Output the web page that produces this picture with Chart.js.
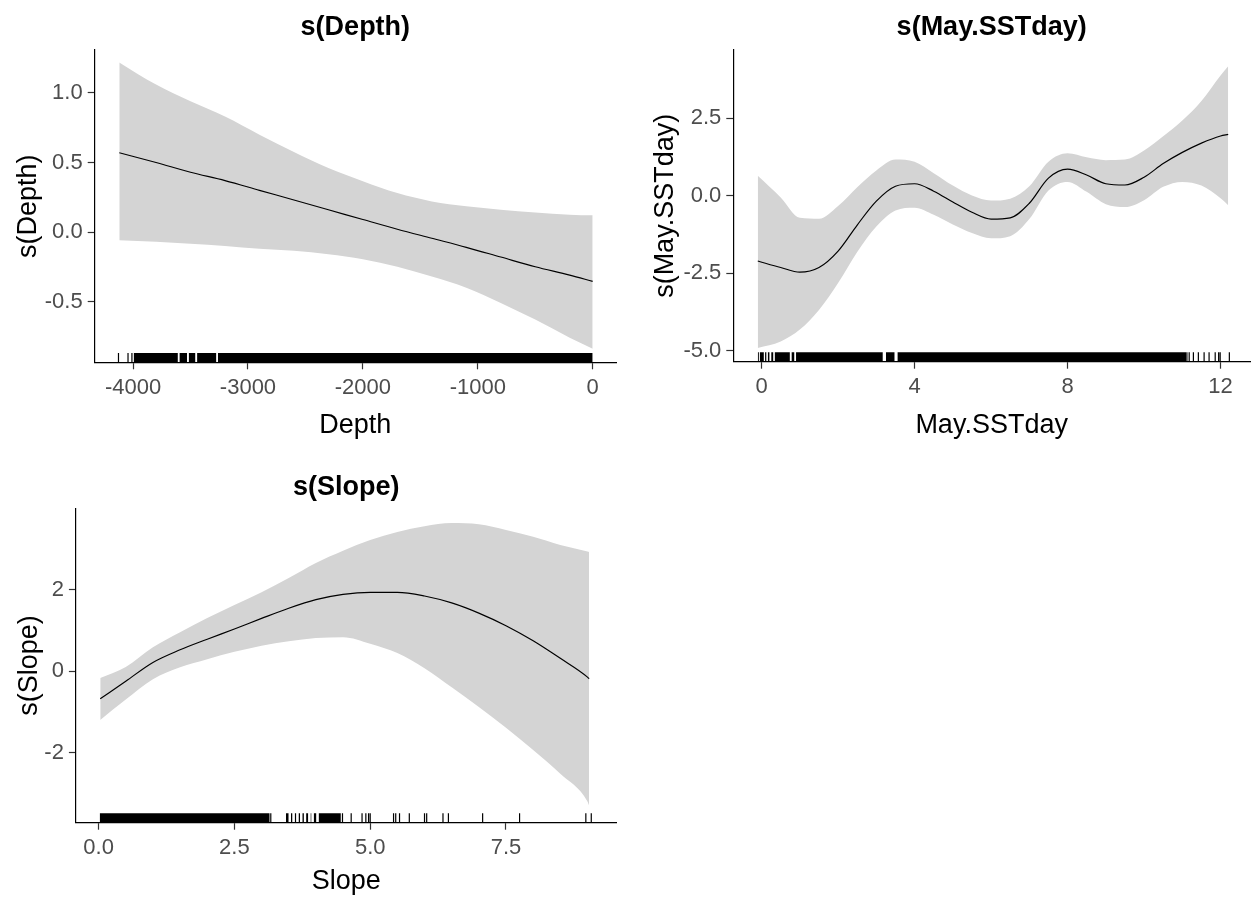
<!DOCTYPE html>
<html>
<head>
<meta charset="utf-8">
<script src="https://cdn.jsdelivr.net/npm/chart.js@4.4.1/dist/chart.umd.min.js"></script>
<style>
  body { margin: 0; background: #fff; }
  #wrap { position: relative; width: 1252px; height: 900px; }
  canvas { position: absolute; }
</style>
</head>
<body>
<div id="wrap">
  <canvas id="depthChart" width="630" height="450" style="left:0;top:0"></canvas>
  <canvas id="sstChart" width="622" height="450" style="left:630px;top:0"></canvas>
  <canvas id="slopeChart" width="630" height="450" style="left:0;top:450px"></canvas>
</div>
<script>
// s(Depth)
const depthX = [-4120, -3800, -3500, -3200, -2900, -2600, -2300, -2000, -1700, -1400, -1100, -800, -500, -200, 0];
const depthFit = [0.57, 0.50, 0.43, 0.37, 0.30, 0.23, 0.16, 0.09, 0.02, -0.045, -0.11, -0.18, -0.25, -0.31, -0.355];
const depthUpper = [1.22, 1.06, 0.94, 0.83, 0.70, 0.575, 0.46, 0.365, 0.28, 0.22, 0.185, 0.16, 0.14, 0.125, 0.12];
const depthLower = [-0.06, -0.07, -0.085, -0.10, -0.12, -0.135, -0.16, -0.195, -0.25, -0.32, -0.40, -0.51, -0.63, -0.76, -0.84];
const depthRugTicks = [-4127, -4044, -4010];
const depthRugBlocks = [[-3995, -3610], [-3597, -3530], [-3516, -3457], [-3443, -3275], [-3262, 0]];
const depthXTicks = [-4000, -3000, -2000, -1000, 0];
const depthXLabels = ["-4000", "-3000", "-2000", "-1000", "0"];
const depthYTicks = [1.0, 0.5, 0.0, -0.5];
const depthYLabels = ["1.0", "0.5", "0.0", "-0.5"];

// s(May.SSTday)
const sstX = [-0.1, 0.5, 1.0, 1.5, 2.0, 2.5, 3.0, 3.5, 4.0, 4.5, 5.0, 5.5, 6.0, 6.5, 7.0, 7.5, 8.0, 8.5, 9.0, 9.5, 10.0, 10.5, 11.0, 11.5, 12.0, 12.2];
const sstFit = [-2.10, -2.31, -2.46, -2.31, -1.78, -0.94, -0.17, 0.31, 0.39, 0.15, -0.20, -0.53, -0.75, -0.71, -0.24, 0.57, 0.86, 0.67, 0.39, 0.35, 0.60, 1.04, 1.40, 1.70, 1.93, 1.98];
const sstUpper = [0.65, -0.05, -0.71, -0.74, -0.33, 0.28, 0.82, 1.17, 1.10, 0.73, 0.33, 0.01, -0.15, -0.09, 0.31, 1.10, 1.37, 1.24, 1.15, 1.17, 1.46, 1.92, 2.43, 3.06, 3.88, 4.18];
const sstLower = [-4.90, -4.69, -4.31, -3.68, -2.81, -1.81, -0.99, -0.47, -0.38, -0.61, -0.92, -1.20, -1.37, -1.30, -0.75, 0.17, 0.45, 0.13, -0.27, -0.36, -0.14, 0.29, 0.45, 0.33, -0.08, -0.30];
const sstRugTicks = [11.12, 11.18, 11.29, 11.42, 11.57, 11.70, 11.86, 11.95, 11.99, 12.23];
const sstRugBlocks = [[-0.10, -0.07], [-0.05, 0.06], [0.09, 0.13], [0.16, 0.21], [0.25, 0.31], [0.34, 0.74], [0.78, 0.86], [0.90, 3.17], [3.25, 3.48], [3.55, 11.10]];
const sstXTicks = [0, 4, 8, 12];
const sstXLabels = ["0", "4", "8", "12"];
const sstYTicks = [2.5, 0.0, -2.5, -5.0];
const sstYLabels = ["2.5", "0.0", "-2.5", "-5.0"];

// s(Slope)
const slopeX = [0.03, 0.5, 1.0, 1.5, 2.0, 2.5, 3.0, 3.5, 4.0, 4.5, 5.0, 5.5, 6.0, 6.5, 7.0, 7.5, 8.0, 8.5, 9.0, 9.03];
const slopeFit = [-0.68, -0.25, 0.21, 0.52, 0.78, 1.03, 1.29, 1.54, 1.75, 1.88, 1.93, 1.93, 1.84, 1.67, 1.42, 1.11, 0.74, 0.31, -0.15, -0.19];
const slopeUpper = [-0.17, 0.10, 0.58, 0.95, 1.30, 1.62, 1.93, 2.28, 2.65, 2.95, 3.21, 3.41, 3.55, 3.63, 3.60, 3.46, 3.29, 3.09, 2.93, 2.92];
const slopeLower = [-1.20, -0.70, -0.20, 0.09, 0.29, 0.47, 0.62, 0.73, 0.81, 0.83, 0.67, 0.44, 0.07, -0.40, -0.88, -1.39, -1.94, -2.52, -3.20, -3.30];
const slopeRugTicks = [3.17, 4.49, 4.65, 4.85, 4.92, 4.97, 5.00, 5.43, 5.47, 5.54, 5.72, 6.00, 6.04, 6.34, 6.44, 7.07, 7.75, 8.97, 9.07];
const slopeRugBlocks = [[0.02, 3.15], [3.45, 3.50], [3.54, 3.57], [3.61, 3.64], [3.68, 3.71], [3.75, 3.78], [3.82, 3.86], [3.90, 3.92], [3.96, 4.01], [4.05, 4.46]];
const slopeXTicks = [0.0, 2.5, 5.0, 7.5];
const slopeXLabels = ["0.0", "2.5", "5.0", "7.5"];
const slopeYTicks = [2, 0, -2];
const slopeYLabels = ["2", "0", "-2"];

const FONT = "'Liberation Sans', Arial, sans-serif";
const BAND = "#d4d4d4";

function toPoints(xs, ys) {
  return xs.map((x, i) => ({ x: x, y: ys[i] }));
}

// rug: one short vertical segment per value, broken by null points
function rugTickPoints(ticks, y0, y1) {
  const pts = [];
  ticks.forEach(v => { pts.push({ x: v, y: y0 }, { x: v, y: y1 }, { x: v, y: null }); });
  return pts;
}

// dense parts of the rug, filled down to the axis
function rugBlockPoints(blocks, y1) {
  const pts = [];
  blocks.forEach(b => { pts.push({ x: b[0], y: y1 }, { x: b[1], y: y1 }, { x: b[1], y: null }); });
  return pts;
}

function makePanel(id, p) {
  const rugTop = p.yMin + 0.03 * (p.yMax - p.yMin);
  const ctx = document.getElementById(id).getContext("2d");
  return new Chart(ctx, {
    type: "line",
    data: {
      datasets: [
        { data: toPoints(p.x, p.fit), borderColor: "#000", borderWidth: 1.2, pointRadius: 0, fill: false, cubicInterpolationMode: "monotone" },
        { data: toPoints(p.x, p.upper), borderWidth: 0, borderColor: BAND, backgroundColor: BAND, pointRadius: 0, fill: "+1", cubicInterpolationMode: "monotone" },
        { data: toPoints(p.x, p.lower), borderWidth: 0, borderColor: BAND, pointRadius: 0, fill: false, cubicInterpolationMode: "monotone" },
        { data: rugTickPoints(p.rugTicks, p.yMin, rugTop), borderColor: "#000", borderWidth: 1.2, pointRadius: 0, fill: false, spanGaps: false },
        { data: rugBlockPoints(p.rugBlocks, rugTop), borderWidth: 0, borderColor: "#000", backgroundColor: "#000", pointRadius: 0, fill: "start", spanGaps: false }
      ]
    },
    options: {
      responsive: false,
      animation: false,
      devicePixelRatio: 1,
      layout: { padding: { left: 0, right: p.padRight, top: 0, bottom: 0 } },
      plugins: {
        legend: { display: false },
        tooltip: { enabled: false },
        title: {
          display: true,
          text: p.title,
          fullSize: false,
          color: "#000",
          font: { family: FONT, size: 27, weight: "bold", lineHeight: 1 },
          padding: { top: p.titleTop, bottom: p.titleBottom }
        }
      },
      scales: {
        x: {
          type: "linear",
          min: p.xMin,
          max: p.xMax,
          afterBuildTicks: s => { s.ticks = p.xTicks.map(v => ({ value: v })); },
          afterFit: s => { s.height = p.xHeight; s.paddingLeft = 0; s.paddingRight = 0; },
          grid: { display: true, drawOnChartArea: false, drawTicks: true, tickLength: 7, tickWidth: 1.2, tickColor: "#333" },
          border: { display: true, color: "#000", width: 1.2 },
          ticks: { font: { family: FONT, size: 22 }, color: "#4d4d4d", padding: 5, maxRotation: 0, autoSkip: false, callback: (v, i) => p.xLabels[i] },
          title: { display: true, text: p.xTitle, color: "#000", font: { family: FONT, size: 27, lineHeight: 1 }, padding: { top: 0, bottom: p.xTitlePad } }
        },
        y: {
          type: "linear",
          min: p.yMin,
          max: p.yMax,
          afterBuildTicks: s => { s.ticks = p.yTicks.map(v => ({ value: v })); },
          afterFit: s => { s.width = p.yWidth; s.paddingTop = 0; s.paddingBottom = 0; },
          grid: { display: true, drawOnChartArea: false, drawTicks: true, tickLength: 7, tickWidth: 1.2, tickColor: "#333" },
          border: { display: true, color: "#000", width: 1.2 },
          ticks: { font: { family: FONT, size: 22 }, color: "#4d4d4d", padding: 5, autoSkip: false, callback: (v, i) => p.yLabels[i] },
          title: { display: true, text: p.yTitle, color: "#000", font: { family: FONT, size: 27, lineHeight: 1 }, padding: { top: p.yTitlePad, bottom: 0 } }
        }
      }
    }
  });
}

makePanel("depthChart", {
  title: "s(Depth)", xTitle: "Depth", yTitle: "s(Depth)",
  x: depthX, fit: depthFit, upper: depthUpper, lower: depthLower,
  rugTicks: depthRugTicks, rugBlocks: depthRugBlocks,
  xTicks: depthXTicks, xLabels: depthXLabels, yTicks: depthYTicks, yLabels: depthYLabels,
  xMin: -4334, xMax: 203, yMin: -0.937, yMax: 1.309,
  yWidth: 94.7, xHeight: 87.7, padRight: 14,
  titleTop: 14, titleBottom: 9, xTitlePad: 10.5, yTitlePad: 15.5
});

makePanel("sstChart", {
  title: "s(May.SSTday)", xTitle: "May.SSTday", yTitle: "s(May.SSTday)",
  x: sstX, fit: sstFit, upper: sstUpper, lower: sstLower,
  rugTicks: sstRugTicks, rugBlocks: sstRugBlocks,
  xTicks: sstXTicks, xLabels: sstXLabels, yTicks: sstYTicks, yLabels: sstYLabels,
  xMin: -0.74, xMax: 12.77, yMin: -5.345, yMax: 4.70,
  yWidth: 103.3, xHeight: 88.3, padRight: 2,
  titleTop: 14, titleBottom: 9, xTitlePad: 10.5, yTitlePad: 22
});

makePanel("slopeChart", {
  title: "s(Slope)", xTitle: "Slope", yTitle: "s(Slope)",
  x: slopeX, fit: slopeFit, upper: slopeUpper, lower: slopeLower,
  rugTicks: slopeRugTicks, rugBlocks: slopeRugBlocks,
  xTicks: slopeXTicks, xLabels: slopeXLabels, yTicks: slopeYTicks, yLabels: slopeYLabels,
  xMin: -0.418, xMax: 9.54, yMin: -3.72, yMax: 3.99,
  yWidth: 75.9, xHeight: 77.3, padRight: 13.2,
  titleTop: 24, titleBottom: 7.3, xTitlePad: 4.5, yTitlePad: 16
});
</script>
</body>
</html>
